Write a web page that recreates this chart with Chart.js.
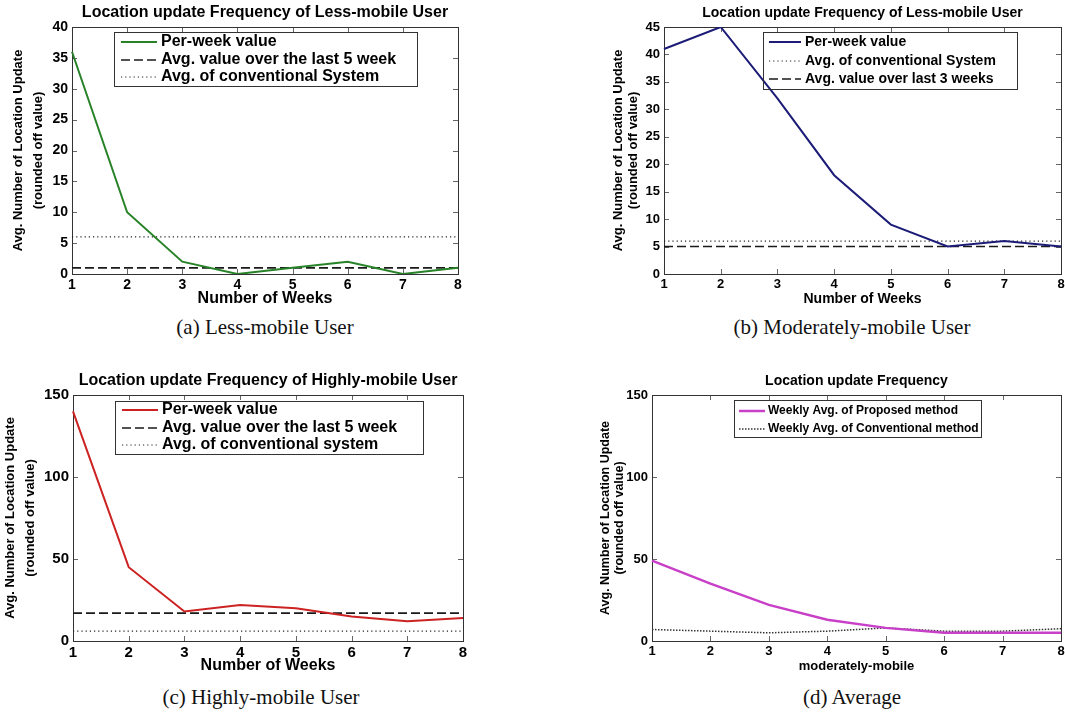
<!DOCTYPE html>
<html>
<head>
<meta charset="utf-8">
<script src="https://cdn.jsdelivr.net/npm/chart.js@4.4.0/dist/chart.umd.min.js"></script>
<style>
  html, body { margin: 0; padding: 0; background: #fff; }
  #page { position: relative; width: 1065px; height: 713px; overflow: hidden; }
  canvas { position: absolute; }
  .cap { position: absolute; font-family: 'Liberation Serif', serif; font-size: 21px; color: #111;
         transform: translate(-50%, -50%); white-space: nowrap; }
</style>
</head>
<body>
<div id="page">
  <canvas id="chartA" width="530" height="312" style="left:0;top:0"></canvas>
  <canvas id="chartB" width="535" height="312" style="left:530px;top:0"></canvas>
  <canvas id="chartC" width="530" height="312" style="left:0;top:365px"></canvas>
  <canvas id="chartD" width="535" height="312" style="left:530px;top:365px"></canvas>
  <div class="cap" style="left:265px;top:327px">(a) Less-mobile User</div>
  <div class="cap" style="left:852px;top:327px">(b) Moderately-mobile User</div>
  <div class="cap" style="left:261px;top:697px">(c) Highly-mobile User</div>
  <div class="cap" style="left:852px;top:697px">(d) Average</div>
</div>
<script>
const weeks = ['1', '2', '3', '4', '5', '6', '7', '8'];

// (a) less-mobile user
const lessPerWeek = [36, 10, 2, 0, 1, 2, 0, 1];
const lessAvgLast5 = [1, 1, 1, 1, 1, 1, 1, 1];
const lessConventional = [6, 6, 6, 6, 6, 6, 6, 6];

// (b) moderately-mobile user
const moderatePerWeek = [41, 45, 32, 18, 9, 5, 6, 5];
const moderateConventional = [6, 6, 6, 6, 6, 6, 6, 6];
const moderateAvgLast3 = [5, 5, 5, 5, 5, 5, 5, 5];

// (c) highly-mobile user
const highPerWeek = [140, 45, 18, 22, 20, 15, 12, 14];
const highAvgLast5 = [17, 17, 17, 17, 17, 17, 17, 17];
const highConventional = [6, 6, 6, 6, 6, 6, 6, 6];

// (d) average
const avgProposed = [49, 35, 22, 13, 8, 5, 5, 5];
const avgConventional = [7, 6, 5, 6, 8, 6, 6, 7.5];

const yTitle = ['Avg. Number of Location Update', '(rounded off value)'];
const sans = "'Liberation Sans', Arial, sans-serif";

// box, inward ticks on all sides and the legend, MATLAB style
const matlabAxes = {
  id: 'matlabAxes',
  beforeDatasetsDraw(chart) {
    const {ctx, chartArea: a, scales} = chart;
    ctx.save();
    ctx.strokeStyle = '#666';
    ctx.lineWidth = 1;
    ctx.beginPath();
    scales.x.ticks.forEach((t, i) => {
      const px = Math.round(scales.x.getPixelForTick(i)) + 0.5;
      ctx.moveTo(px, a.bottom); ctx.lineTo(px, a.bottom - 5);
      ctx.moveTo(px, a.top); ctx.lineTo(px, a.top + 5);
    });
    scales.y.ticks.forEach((t, i) => {
      const py = Math.round(scales.y.getPixelForTick(i)) + 0.5;
      ctx.moveTo(a.left, py); ctx.lineTo(a.left + 5, py);
      ctx.moveTo(a.right, py); ctx.lineTo(a.right - 5, py);
    });
    ctx.stroke();
    ctx.strokeStyle = '#333';
    ctx.strokeRect(Math.round(a.left) + 0.5, Math.round(a.top) + 0.5,
                   Math.round(a.right - a.left), Math.round(a.bottom - a.top));
    ctx.restore();
  },
  afterDatasetsDraw(chart, args, lg) {
    const ctx = chart.ctx;
    ctx.save();
    ctx.strokeStyle = '#333';
    ctx.lineWidth = 1;
    ctx.strokeRect(lg.x + 0.5, lg.y + 0.5, lg.w, lg.h);
    ctx.font = 'bold ' + lg.size + 'px ' + sans;
    ctx.textBaseline = 'middle';
    ctx.fillStyle = '#000';
    chart.data.datasets.forEach((ds, i) => {
      const ry = lg.rows[i];
      ctx.beginPath();
      ctx.setLineDash(ds.borderDash || []);
      ctx.lineWidth = ds.borderWidth;
      ctx.strokeStyle = ds.borderColor;
      ctx.moveTo(lg.sx0, ry);
      ctx.lineTo(lg.sx1, ry);
      ctx.stroke();
      ctx.setLineDash([]);
      ctx.fillText(ds.label, lg.tx, ry);
    });
    ctx.restore();
  }
};

function series(label, data, color, width, dash) {
  return { label: label, data: data, borderColor: color, borderWidth: width,
           borderDash: dash, pointRadius: 0, tension: 0, fill: false };
}

function buildChart(id, p) {
  const canvas = document.getElementById(id);
  const W = canvas.width, H = canvas.height;
  const tLH = p.titleSize * 1.2;
  const xLH = p.xTitleSize * 1.2;
  return new Chart(canvas, {
    type: 'line',
    data: { labels: weeks, datasets: p.datasets },
    options: {
      responsive: false,
      animation: false,
      layout: { padding: { left: 0, top: 0, right: W - p.area.right, bottom: H - p.xTitleY - xLH / 2 } },
      plugins: {
        legend: { display: false },
        tooltip: { enabled: false },
        title: {
          display: true, text: p.title, fullSize: false, color: '#000',
          font: { family: sans, size: p.titleSize, weight: 'bold', lineHeight: 1.2 },
          padding: { top: p.titleY - tLH / 2, bottom: p.area.top - p.titleY - tLH / 2 }
        },
        matlabAxes: p.legend
      },
      scales: {
        x: {
          grid: { display: false, drawTicks: false },
          border: { display: false },
          ticks: { color: '#000', padding: 3, maxRotation: 0, autoSkip: false,
                   font: { family: sans, size: p.tickSize, weight: 'bold' } },
          title: { display: true, text: p.xTitle, color: '#000', padding: { top: 0, bottom: 0 },
                   font: { family: sans, size: p.xTitleSize, weight: 'bold', lineHeight: 1.2 } },
          afterFit(s) {
            s.height = p.xTitleY + xLH / 2 - p.area.bottom;
            s.paddingLeft = 0; s.paddingRight = 0;
          }
        },
        y: {
          min: p.yMin, max: p.yMax,
          grid: { display: false, drawTicks: false },
          border: { display: false },
          ticks: { color: '#000', padding: 4, stepSize: p.yStep,
                   font: { family: sans, size: p.tickSize, weight: 'bold' } },
          title: { display: true, text: yTitle, color: '#000',
                   padding: { top: p.yTitleX - p.yTitleLH / 2, bottom: 0 },
                   font: { family: sans, size: p.yTitleSize, weight: 'bold',
                           lineHeight: p.yTitleLH / p.yTitleSize } },
          afterFit(s) {
            s.width = p.area.left;
            s.paddingTop = 0; s.paddingBottom = 0;
          }
        }
      }
    },
    plugins: [matlabAxes]
  });
}

buildChart('chartA', {
  title: 'Location update Frequency of Less-mobile User',
  xTitle: 'Number of Weeks',
  titleSize: 16, tickSize: 14, xTitleSize: 16, yTitleSize: 13, yTitleLH: 20,
  area: { left: 72, top: 27, right: 458, bottom: 274 },
  titleY: 13, xTitleY: 299, yTitleX: 18,
  yMin: 0, yMax: 40, yStep: 5,
  datasets: [
    series('Per-week value', lessPerWeek, '#288228', 2, []),
    series('Avg. value over the last 5 week', lessAvgLast5, '#1a1a1a', 1.6, [9, 4]),
    series('Avg. of conventional System', lessConventional, '#222', 1.2, [1.2, 3])
  ],
  legend: { x: 114, y: 32, w: 303, h: 54, rows: [42, 60, 77], sx0: 121, sx1: 157, tx: 161, size: 16 }
});

buildChart('chartB', {
  title: 'Location update Frequency of Less-mobile User',
  xTitle: 'Number of Weeks',
  titleSize: 14, tickSize: 13, xTitleSize: 14, yTitleSize: 13, yTitleLH: 15,
  area: { left: 134, top: 27, right: 531, bottom: 274 },
  titleY: 13, xTitleY: 299, yTitleX: 88,
  yMin: 0, yMax: 45, yStep: 5,
  datasets: [
    series('Per-week value', moderatePerWeek, '#1c1c78', 2, []),
    series('Avg. of conventional System', moderateConventional, '#222', 1.2, [1.2, 3]),
    series('Avg. value over last 3 weeks', moderateAvgLast3, '#1a1a1a', 1.6, [9, 4])
  ],
  legend: { x: 233, y: 32, w: 254, h: 57, rows: [42, 61, 79], sx0: 239, sx1: 271, tx: 275, size: 14 }
});

buildChart('chartC', {
  title: 'Location update Frequency of Highly-mobile User',
  xTitle: 'Number of Weeks',
  titleSize: 16, tickSize: 15, xTitleSize: 16, yTitleSize: 13, yTitleLH: 20,
  area: { left: 73, top: 30, right: 463, bottom: 276 },
  titleY: 16, xTitleY: 301, yTitleX: 10,
  yMin: 0, yMax: 150, yStep: 50,
  datasets: [
    series('Per-week value', highPerWeek, '#cc2222', 2, []),
    series('Avg. value over the last 5 week', highAvgLast5, '#1a1a1a', 1.6, [9, 4]),
    series('Avg. of conventional system', highConventional, '#222', 1.2, [1.2, 3])
  ],
  legend: { x: 115, y: 36, w: 308, h: 53, rows: [45, 63, 80], sx0: 122, sx1: 158, tx: 162, size: 16 }
});

buildChart('chartD', {
  title: 'Location update Frequency',
  xTitle: 'moderately-mobile',
  titleSize: 14, tickSize: 13, xTitleSize: 13, yTitleSize: 12.5, yTitleLH: 14,
  area: { left: 122, top: 30, right: 531, bottom: 276 },
  titleY: 16, xTitleY: 301, yTitleX: 76,
  yMin: 0, yMax: 150, yStep: 50,
  datasets: [
    series('Weekly Avg. of Proposed method', avgProposed, '#c840c8', 2.5, []),
    series('Weekly Avg. of Conventional method', avgConventional, '#333', 1.5, [1.5, 1.5])
  ],
  legend: { x: 204, y: 35, w: 247, h: 37, rows: [46, 64], sx0: 209, sx1: 235, tx: 238, size: 12 }
});
</script>
</body>
</html>
